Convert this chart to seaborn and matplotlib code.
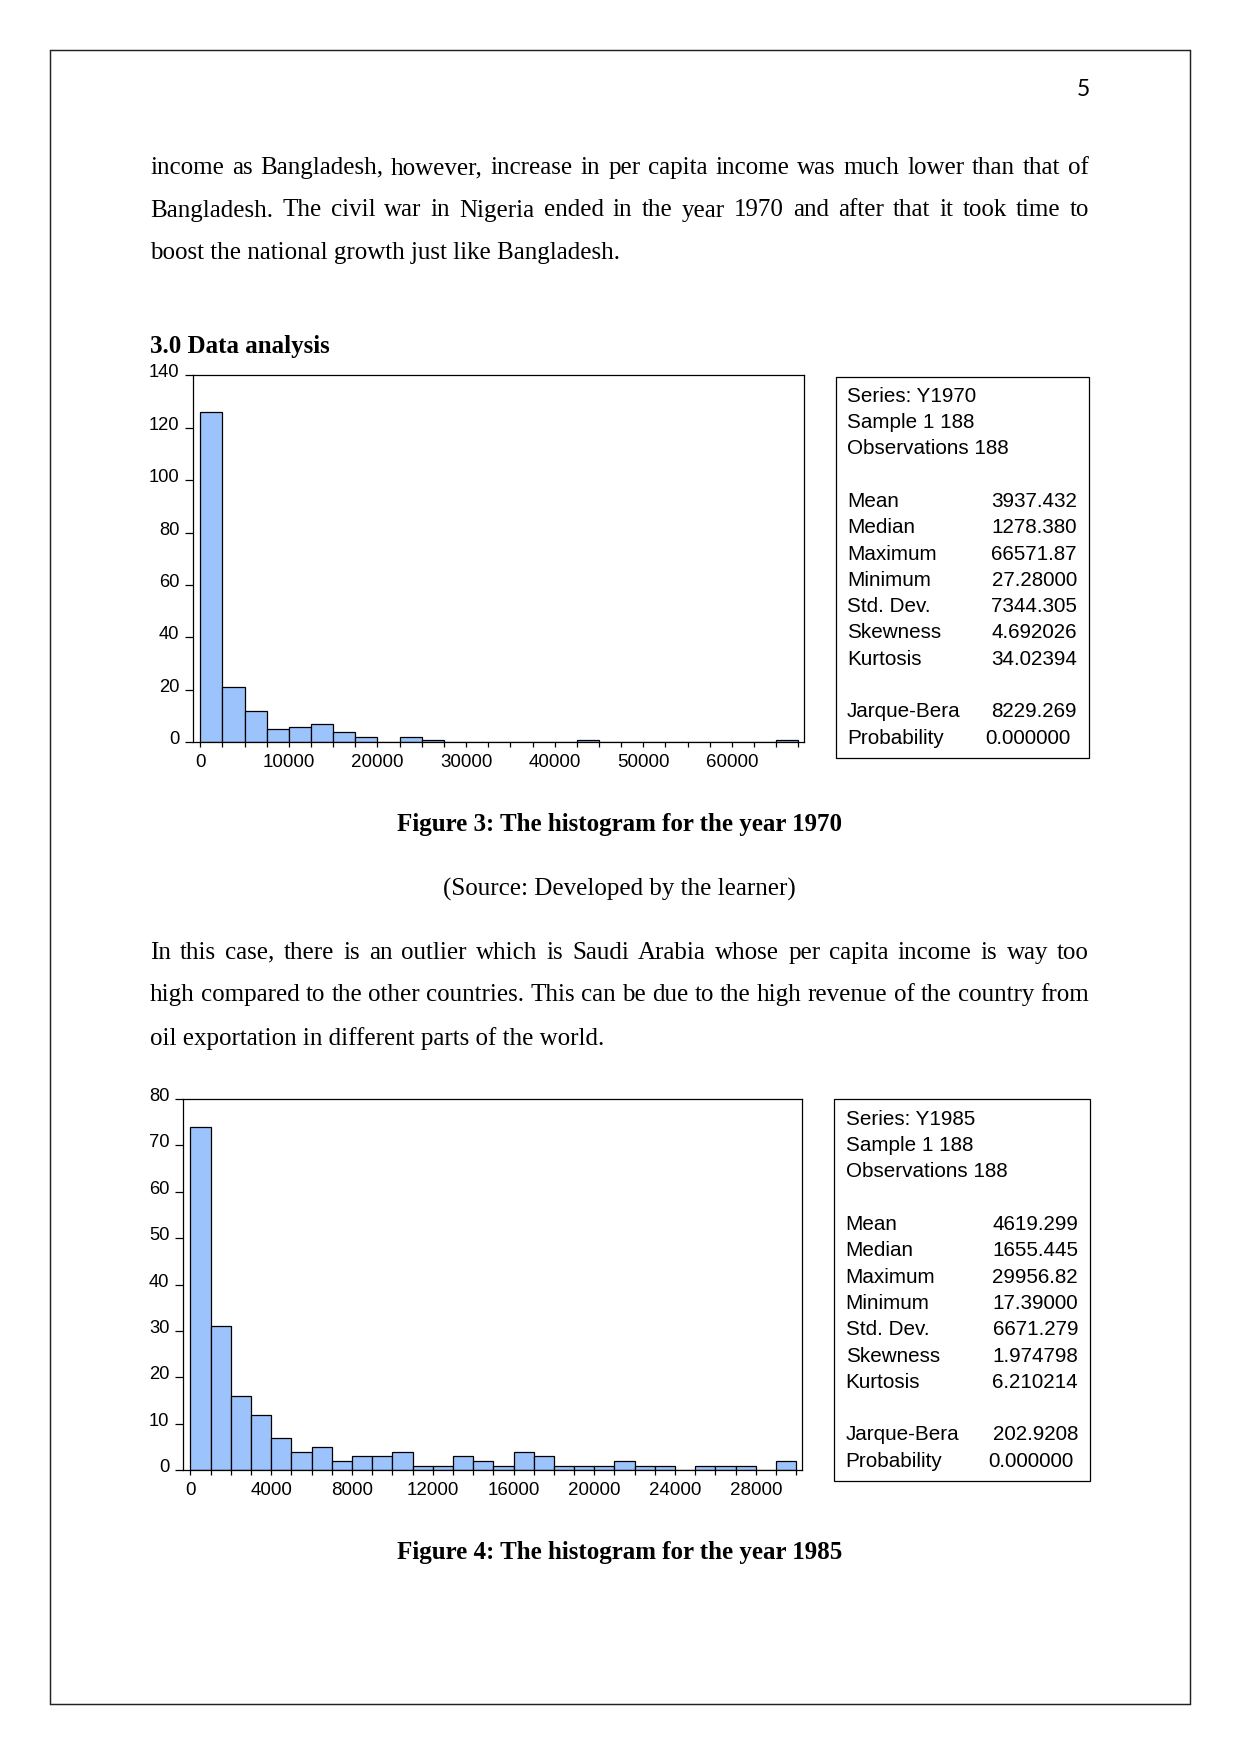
import numpy as np
import pandas as pd
import matplotlib
matplotlib.use("Agg")
import matplotlib.pyplot as plt
import matplotlib.transforms as mtransforms
import seaborn as sns
from matplotlib.patches import Rectangle
from matplotlib.ticker import FixedLocator, MultipleLocator

# ---------------- data ----------------
bin_width_1970 = 2500
counts_1970 = [126, 21, 12, 5, 6, 7, 4, 2, 0, 2, 1, 0, 0, 0, 0, 0, 0, 1,
               0, 0, 0, 0, 0, 0, 0, 0, 1]
xticks_1970 = [0, 10000, 20000, 30000, 40000, 50000, 60000]
yticks_1970 = [0, 20, 40, 60, 80, 100, 120, 140]

bin_width_1985 = 1000
counts_1985 = [74, 31, 16, 12, 7, 4, 5, 2, 3, 3, 4, 1, 1, 3, 2, 1, 4, 3,
               1, 1, 1, 2, 1, 1, 0, 1, 1, 1, 0, 2]
xticks_1985 = [0, 4000, 8000, 12000, 16000, 20000, 24000, 28000]
yticks_1985 = [0, 10, 20, 30, 40, 50, 60, 70, 80]

header_1970 = ["Series: Y1970", "Sample 1 188", "Observations 188"]
header_1985 = ["Series: Y1985", "Sample 1 188", "Observations 188"]
stat_names = ["Mean", "Median", "Maximum", "Minimum", "Std. Dev.",
              "Skewness", "Kurtosis"]
stats_1970 = ["3937.432", "1278.380", "66571.87", "27.28000", "7344.305",
              "4.692026", "34.02394"]
stats_1985 = ["4619.299", "1655.445", "29956.82", "17.39000", "6671.279",
              "1.974798", "6.210214"]
test_names = ["Jarque-Bera", "Probability"]
tests_1970 = ["8229.269", "0.000000"]
tests_1985 = ["202.9208", "0.000000"]

para1 = ["income as Bangladesh, however, increase in per capita income was much lower than that of",
         "Bangladesh. The civil war in Nigeria ended in the year 1970 and after that it took time to",
         "boost the national growth just like Bangladesh."]
heading = "3.0 Data analysis"
caption1 = "Figure 3: The histogram for the year 1970"
source1 = "(Source: Developed by the learner)"
para2 = ["In this case, there is an outlier which is Saudi Arabia whose per capita income is way too",
         "high compared to the other countries. This can be due to the high revenue of the country from",
         "oil exportation in different parts of the world."]
caption2 = "Figure 4: The histogram for the year 1985"
page_number = "5"

# ---------------- style ----------------
sns.set_style("ticks")
SERIF = ["Liberation Serif", "DejaVu Serif"]
SANS = ["Liberation Sans", "DejaVu Sans"]
plt.rcParams["font.family"] = SANS
plt.rcParams["text.color"] = "black"
plt.rcParams["xtick.color"] = "black"
plt.rcParams["ytick.color"] = "black"
plt.rcParams["xtick.labelcolor"] = "black"
plt.rcParams["ytick.labelcolor"] = "black"
BAR = "#9cc3fb"

W, H, DPI = 1241, 1754, 150
fig = plt.figure(figsize=(W / DPI, H / DPI), dpi=DPI)
fig.patch.set_facecolor("white")

DY = 2.0  # small vertical correction for text centres


def fx(x):
    return x / W


def fy(y):
    return 1 - y / H


# page border
fig.patches.append(Rectangle((fx(50.4), fy(1704.3)), (1189.5 - 50.4) / W,
                             (1704.3 - 50.4) / H, transform=fig.transFigure,
                             fill=False, edgecolor="#222222", linewidth=0.7))

renderer = fig.canvas.get_renderer()
LEFT, RIGHT = 150.0, 1089.0
BODY = 12


def line_text(txt, y, justify=False, **kw):
    y = y + DY
    if not justify:
        fig.text(fx(LEFT), fy(y), txt, family=SERIF, fontsize=BODY,
                 va="center", ha="left", color="black", **kw)
        return
    words = txt.split()
    objs = [fig.text(0, fy(y), w, family=SERIF, fontsize=BODY, va="center",
                     ha="left", color="black", **kw) for w in words]
    widths = [o.get_window_extent(renderer=renderer).width for o in objs]
    gap = (RIGHT - LEFT - sum(widths)) / (len(words) - 1)
    x = LEFT
    for o, wd in zip(objs, widths):
        o.set_x(fx(x))
        x += wd + gap


def centred(txt, y, bold=False):
    fig.text(fx(619.5), fy(y + DY), txt, family=SERIF, fontsize=BODY,
             fontweight="bold" if bold else "normal", va="center",
             ha="center", color="black")


fig.text(fx(1083), fy(90), page_number, family=["Lato", "DejaVu Sans"],
         fontsize=11, va="center", ha="center", color="black")

for i, (ln, yy) in enumerate(zip(para1, [166, 208.5, 251])):
    line_text(ln, yy, justify=(i < 2))
fig.text(fx(LEFT), fy(344 + DY), heading, family=SERIF, fontsize=BODY,
         fontweight="bold", va="center", ha="left", color="black")

centred(caption1, 822.7, bold=True)
centred(source1, 887)
for i, (ln, yy) in enumerate(zip(para2, [950.7, 993.3, 1036.7])):
    line_text(ln, yy, justify=(i < 2))
centred(caption2, 1551, bold=True)


# ---------------- histograms ----------------
def histogram(box, counts, bw, xlim, ylim, xticks, yticks):
    l, r, t, b = box
    ax = fig.add_axes([fx(l), fy(b), (r - l) / W, (b - t) / H])
    edges = [i * bw for i in range(len(counts) + 1)]
    df = pd.DataFrame({"value": [e + bw / 2 for e in edges[:-1]],
                       "count": counts})
    sns.histplot(data=df, x="value", weights="count", binwidth=bw,
                 binrange=(edges[0], edges[-1]), ax=ax,
                 color=BAR, edgecolor="black", linewidth=0.6, alpha=1.0)
    ax.set_xlim(*xlim)
    ax.set_ylim(*ylim)
    ax.set_xlabel("")
    ax.set_ylabel("")
    ax.xaxis.set_major_locator(FixedLocator(xticks))
    ax.xaxis.set_minor_locator(MultipleLocator(bw))
    ax.yaxis.set_major_locator(FixedLocator(yticks))
    ax.set_xticklabels([str(v) for v in xticks])
    ax.set_yticklabels([str(v) for v in yticks])
    for s in ax.spines.values():
        s.set_visible(True)
        s.set_linewidth(0.6)
        s.set_color("black")
    ax.tick_params(axis="x", which="both", direction="out", length=2.4,
                   width=0.6, color="black", labelcolor="black",
                   labelsize=9.0, pad=3.0, top=False, bottom=True)
    ax.tick_params(axis="y", which="both", direction="out", length=3.8,
                   width=0.6, color="black", labelcolor="black",
                   labelsize=8.8, pad=3.0, left=True, right=False)
    shift = mtransforms.ScaledTranslation(0, -2.0 / DPI, fig.dpi_scale_trans)
    for tk in ax.yaxis.get_major_ticks():
        tk.label1.set_verticalalignment("baseline")
        tk.label1.set_transform(tk.label1.get_transform() + shift)
    ax.grid(False)
    return ax


histogram((193.3, 804.0, 375.3, 742.3), counts_1970, bin_width_1970,
          (-790, 68140), (0, 140), xticks_1970, yticks_1970)
histogram((183.4, 802.3, 1099.0, 1470.3), counts_1985, bin_width_1985,
          (-346, 30300), (0, 80), xticks_1985, yticks_1985)


# ---------------- statistics boxes ----------------
def stats_box(rect, tx, vx, px, y0, header, vals, tvals):
    l, t, r, b = rect
    fig.patches.append(Rectangle((fx(l), fy(b)), (r - l) / W, (b - t) / H,
                                 transform=fig.transFigure, fill=False,
                                 edgecolor="black", linewidth=0.6))
    step = 26.3
    y0 = y0 + DY
    kw = dict(family=SANS, fontsize=9.9, va="center", color="black")
    for k, h in enumerate(header):
        fig.text(fx(tx), fy(y0 + k * step), h, ha="left", **kw)
    for k, (n, v) in enumerate(zip(stat_names, vals)):
        yy = y0 + (k + 4) * step
        fig.text(fx(tx), fy(yy), n, ha="left", **kw)
        fig.text(fx(vx), fy(yy), v, ha="right", **kw)
    for k, (n, v) in enumerate(zip(test_names, tvals)):
        yy = y0 + (k + 12) * step
        fig.text(fx(tx), fy(yy), n, ha="left", **kw)
        fig.text(fx(vx if k == 0 else px), fy(yy), v, ha="right", **kw)


stats_box((835.5, 376.7, 1089.3, 757.7), 847, 1077, 1071, 394.3,
          header_1970, stats_1970, tests_1970)
stats_box((833.5, 1098.5, 1090.3, 1480.5), 845.7, 1078, 1073.3, 1117.3,
          header_1985, stats_1985, tests_1985)

fig.savefig("out.png", dpi=DPI, facecolor="white")
